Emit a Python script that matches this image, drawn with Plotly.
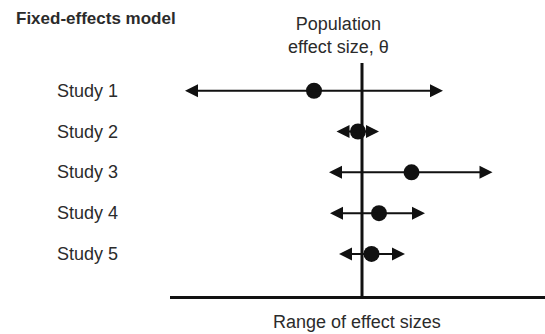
import plotly.graph_objects as go

# Data (schematic effect sizes, arbitrary units; theta = population effect)
studies = ["Study 1", "Study 2", "Study 3", "Study 4", "Study 5"]
study_pos = [1, 2, 3, 4, 5]
estimate = [-0.96, -0.08, 0.99, 0.34, 0.19]
ci_low = [-3.54, -0.51, -0.66, -0.64, -0.46]
ci_high = [1.62, 0.34, 2.61, 1.26, 0.86]
theta = 0.0

title_text = "Fixed-effects model"
theta_label = "Population<br>effect size, θ"
axis_label = "Range of effect sizes"

W, H = 545, 334
ink = "#111111"
txt = "#2b2b2b"
font_family = "Liberation Sans, Arial, sans-serif"

fig = go.Figure()

fig.add_trace(go.Scatter(
    x=estimate, y=study_pos, mode="markers",
    marker=dict(size=16, color=ink, line=dict(width=0)),
    showlegend=False, hoverinfo="skip",
))

annotations = []
for yv, est, lo, hi in zip(study_pos, estimate, ci_low, ci_high):
    for tip in (lo, hi):
        annotations.append(dict(
            x=tip, y=yv, ax=est, ay=yv, xref="x", yref="y", axref="x", ayref="y",
            text="", showarrow=True, arrowhead=2, arrowsize=1.3, arrowwidth=2,
            arrowcolor=ink, standoff=0, startstandoff=0,
        ))

for name, yv in zip(studies, study_pos):
    annotations.append(dict(
        x=-0.221, y=yv, xref="paper", yref="y", text=name, showarrow=False,
        xanchor="center", yanchor="middle",
        font=dict(family=font_family, size=18, color=txt),
    ))

annotations.append(dict(
    x=(14 - 170) / 375, y=1 - 19 / 296, xref="paper", yref="paper",
    text="<b>" + title_text + "</b>",
    showarrow=False, xanchor="left", yanchor="middle",
    font=dict(family=font_family, size=17, color=txt),
))
annotations.append(dict(
    x=theta, xshift=-24, y=1 - 36 / 296, xref="x", yref="paper", text=theta_label,
    showarrow=False, xanchor="center", yanchor="middle",
    font=dict(family=font_family, size=18, color=txt),
))
annotations.append(dict(
    x=theta, xshift=-5, y=-26 / 296, xref="x", yref="paper", text=axis_label,
    showarrow=False, xanchor="center", yanchor="middle",
    font=dict(family=font_family, size=18, color=txt),
))

fig.update_layout(
    width=W, height=H,
    margin=dict(l=170, r=0, t=0, b=38),
    plot_bgcolor="white", paper_bgcolor="white",
    showlegend=False,
    annotations=annotations,
    shapes=[dict(type="line", xref="x", yref="paper", x0=theta, x1=theta,
                 y0=0, y1=1 - 63 / 296, line=dict(color=ink, width=3))],
    xaxis=dict(range=[-3.84, 3.66], showgrid=False, zeroline=False,
               showticklabels=False, ticks="", showline=True,
               linecolor=ink, linewidth=3),
    yaxis=dict(range=[6.03, -1.223], showgrid=False, zeroline=False,
               showticklabels=False, ticks="", showline=False),
)

fig.write_html("out.html")
